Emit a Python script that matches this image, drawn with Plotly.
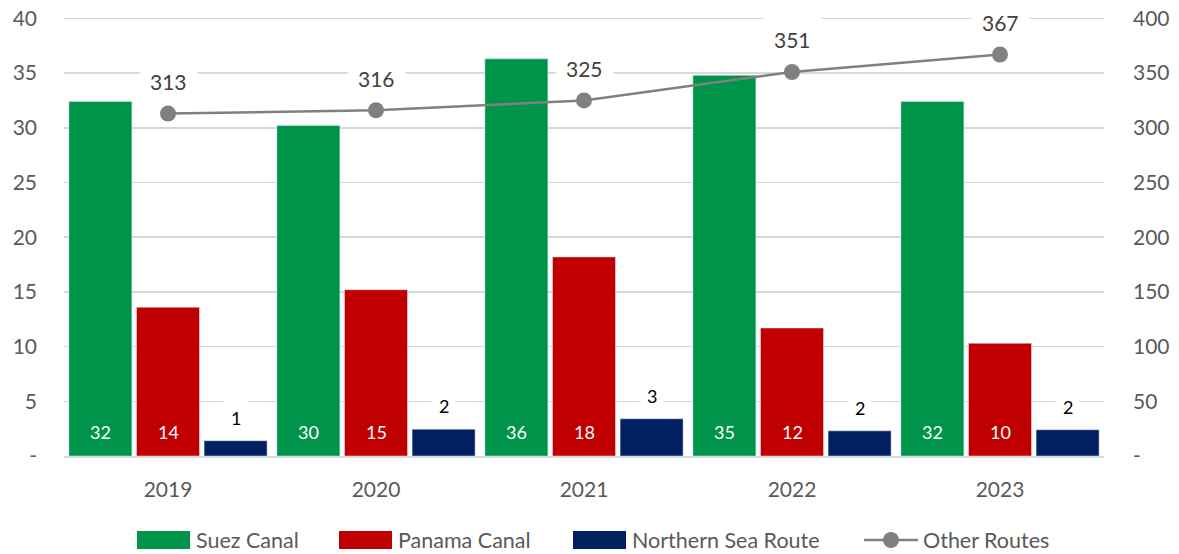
import plotly.graph_objects as go

years = ["2019", "2020", "2021", "2022", "2023"]
suez = [32.4, 30.2, 36.3, 34.8, 32.4]
panama = [13.6, 15.2, 18.2, 11.7, 10.3]
nsr = [1.4, 2.45, 3.4, 2.3, 2.4]
other = [313, 316, 325, 351, 367]

left_ticks = [0, 5, 10, 15, 20, 25, 30, 35, 40]
left_labels = ["-"] + [str(v) for v in left_ticks[1:]]
right_ticks = [0, 50, 100, 150, 200, 250, 300, 350, 400]
right_labels = ["-"] + [str(v) for v in right_ticks[1:]]

FONT = "Lato, Open Sans, sans-serif"
GREEN = "#00944A"
RED = "#C00000"
NAVY = "#002060"
GREY = "#808080"
TXT = "#595959"

W, H = 1179, 554
ML, MR, MT, MB = 64, 75, 14, 98
PW = W - ML - MR
PH = H - MT - MB
YMAX = 40.4  # slight headroom so the top gridline is drawn

BARGAP = 0.025
GROUPGAP = 0.068


def px2x(px):
    return (px - ML) / PW


def py2y(py):
    return (H - MB - py) / PH


fig = go.Figure()
fig.add_trace(go.Bar(name="Suez Canal", x=years, y=suez, marker_color=GREEN))
fig.add_trace(go.Bar(name="Panama Canal", x=years, y=panama, marker_color=RED))
fig.add_trace(go.Bar(name="Northern Sea Route", x=years, y=nsr, marker_color=NAVY))
fig.add_trace(go.Scatter(name="Other Routes", x=years, y=other, yaxis="y2",
                         mode="lines+markers",
                         line=dict(color=GREY, width=2.5),
                         marker=dict(color=GREY, size=16)))

slot = PW / len(years) * (1 - BARGAP) / 3

annotations = []
for i, (s, p) in enumerate(zip(suez, panama)):
    annotations.append(dict(x=i, xref="x", y=0, yref="y", text=f"{s:.0f}",
                            xshift=-slot, yshift=24, showarrow=False,
                            font=dict(color="white", size=18, family=FONT)))
    annotations.append(dict(x=i, xref="x", y=0, yref="y", text=f"{p:.0f}",
                            xshift=0, yshift=24, showarrow=False,
                            font=dict(color="white", size=18, family=FONT)))
for i, v in enumerate(nsr):
    annotations.append(dict(x=i, xref="x", y=v, yref="y", text=f"{v:.0f}",
                            xshift=slot, yshift=23, showarrow=False,
                            bgcolor="white", borderpad=6,
                            font=dict(color="black", size=18, family=FONT)))
for i, v in enumerate(other):
    annotations.append(dict(x=i, xref="x", y=v, yref="y2", text=str(v),
                            yshift=32, showarrow=False, bgcolor="white",
                            borderpad=10,
                            font=dict(color="#404040", size=21, family=FONT)))

# custom legend
shapes = []
legend_items = [("Suez Canal", GREEN, 137), ("Panama Canal", RED, 339),
                ("Northern Sea Route", NAVY, 573)]
LY = 540
for name, col, x0 in legend_items:
    shapes.append(dict(type="rect", xref="paper", yref="paper",
                       x0=px2x(x0), x1=px2x(x0 + 53), y0=py2y(LY + 9), y1=py2y(LY - 9),
                       fillcolor=col, line=dict(width=0)))
    annotations.append(dict(xref="paper", yref="paper", x=px2x(x0 + 57), y=py2y(LY),
                            xanchor="left", yanchor="middle", text=name, showarrow=False,
                            font=dict(color=TXT, size=21.5, family=FONT)))
shapes.append(dict(type="line", xref="paper", yref="paper",
                   x0=px2x(864), x1=px2x(918), y0=py2y(LY), y1=py2y(LY),
                   line=dict(color=GREY, width=2.5)))
shapes.append(dict(type="circle", xref="paper", yref="paper",
                   x0=px2x(883), x1=px2x(899), y0=py2y(LY + 8), y1=py2y(LY - 8),
                   fillcolor=GREY, line=dict(width=0)))
annotations.append(dict(xref="paper", yref="paper", x=px2x(921), y=py2y(LY),
                        xanchor="left", yanchor="middle", text="Other Routes", showarrow=False,
                        font=dict(color=TXT, size=21.5, family=FONT)))

fig.update_layout(
    width=W, height=H,
    margin=dict(l=ML, r=MR, t=MT, b=MB, autoexpand=False),
    paper_bgcolor="white", plot_bgcolor="white",
    barmode="group", bargap=BARGAP, bargroupgap=GROUPGAP,
    showlegend=False,
    hovermode=False,
    font=dict(family=FONT, color=TXT, size=21),
    xaxis=dict(type="category", range=[-0.5, 4.5], showgrid=False, showline=True,
               linecolor="#d9d9d9", automargin=False,
               linewidth=2, ticks="", ticklabelstandoff=14,
               tickfont=dict(size=21, color=TXT)),
    yaxis=dict(range=[0, YMAX], tickvals=left_ticks, ticktext=left_labels,
               showgrid=True, gridcolor="#d9d9d9", gridwidth=1.5, automargin=False,
               zeroline=False, ticks="", ticklabelstandoff=26,
               tickfont=dict(size=21, color=TXT)),
    yaxis2=dict(range=[0, YMAX * 10], tickvals=right_ticks, ticktext=right_labels,
                overlaying="y", side="right", showgrid=False, zeroline=False,
                ticks="", ticklabelstandoff=28, automargin=False,
                tickfont=dict(size=21, color=TXT)),
    annotations=annotations,
    shapes=shapes,
)

fig.write_html("out.html",
               config={"displayModeBar": False, "staticPlot": True},
               post_script="document.body.style.margin='0px';document.body.style.overflow='hidden';")
